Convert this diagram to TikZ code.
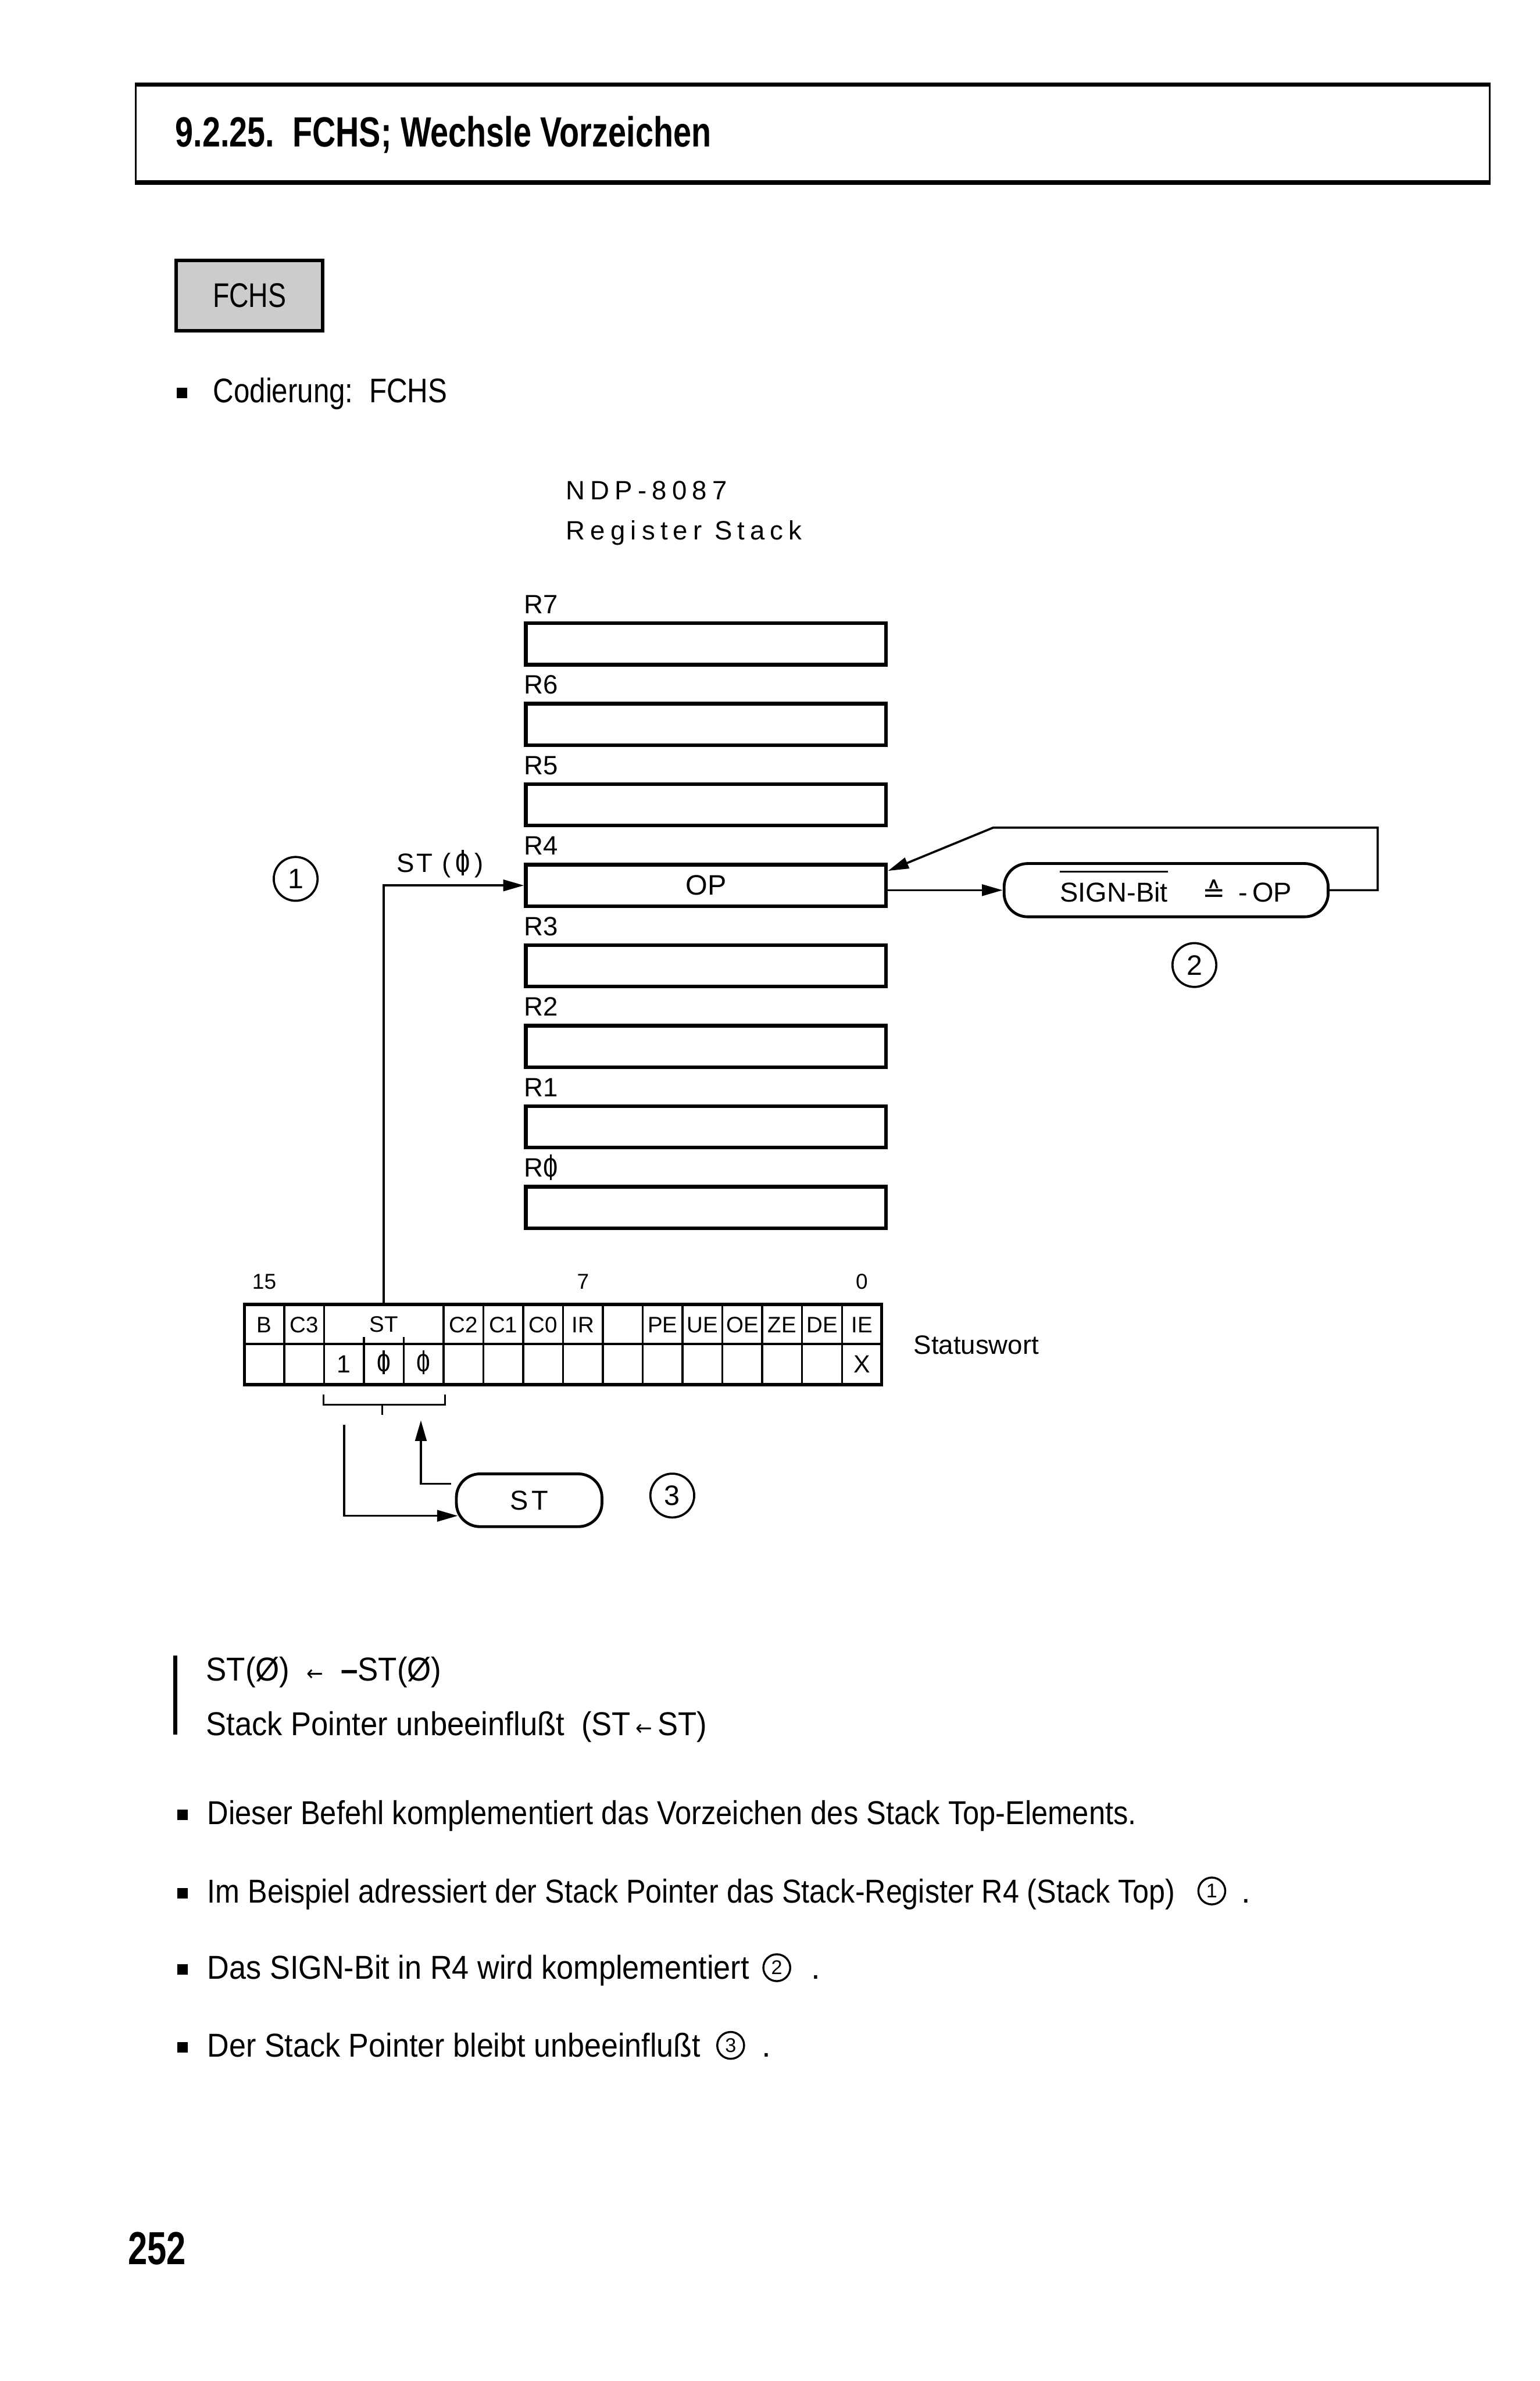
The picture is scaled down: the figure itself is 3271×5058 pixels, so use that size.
\documentclass[tikz,border=0pt]{standalone}
\usepackage{fontspec}
\usepackage{graphicx}
\setmainfont{Liberation Sans}
\newfontfamily\djv{DejaVu Sans}
\newfontfamily\spacedfont[LetterSpace=20]{Liberation Sans}
\newfontfamily\lightspaced[LetterSpace=8]{Liberation Sans}
\usetikzlibrary{arrows.meta,calc}
\newcommand\fs[1]{\fontsize{#1}{#1}\selectfont}
\newcommand\fitto[2]{\resizebox{#1}{\height}{#2}}
\newcommand\zbar{\ooalign{0\cr\hidewidth\rule[-0.12em]{0.08em}{0.96em}\hidewidth\cr}}
\begin{document}
\begin{tikzpicture}[x=0.01cm,y=-0.01cm,
  txt/.style={inner sep=0, anchor=base west},
  reglbl/.style={txt, font=\fs{16}},
  regbox/.style={draw, line width=2.2pt, minimum width=7.65cm, minimum height=0.88cm, inner sep=0, anchor=north west},
  conn/.style={line width=1.3pt},
  withtip/.style={-{Triangle[length=0.44cm,width=0.24cm]}},
  pill/.style={draw, line width=1.7pt, rounded corners=0.5cm, inner sep=0},
  numcirc/.style={draw, circle, line width=1.3pt, minimum size=0.93cm, inner sep=0, font=\fs{17}},
  smallcirc/.style={draw, circle, line width=1.2pt, minimum size=0.57cm, inner sep=0, font=\fs{12}},
  bullet/.style={fill, minimum size=0.22cm, inner sep=0},
  cell/.style={inner sep=0, font=\fs{13.5}},
  val/.style={inner sep=0, font=\fs{15}},
  bitno/.style={inner sep=0, anchor=base, font=\fs{13}}]
\fill[white] (0,0) rectangle (3271,5058);
\useasboundingbox (0,0) rectangle (3271,5058);

% header
\draw[line width=2.6pt] (286,180) -- (3166,180) (286,388) -- (3166,388);
\draw[line width=1.1pt] (288,180) -- (288,388) (3164,180) -- (3164,388);
\node[txt] (title) at (372,312) {\fitto{11.37cm}{\fs{25.5}\bfseries 9.2.25.\ \ FCHS;\ Wechsle Vorzeichen}};

% FCHS box
\node[draw, fill=black!20, line width=2.2pt, minimum width=3.11cm, minimum height=1.49cm, inner sep=0] (fchs) at (530,628) {\fitto{1.56cm}{\fs{20.6}FCHS}};
\node[bullet] (bulc) at (386,835) {};
\node[txt] (cod) at (452,855) {\fitto{4.97cm}{\fs{20.6}Codierung:\ \ FCHS}};

% diagram title
\node[txt, font=\fs{16}\spacedfont] (ndp) at (1202,1061) {NDP-8087};
\node[txt, font=\fs{16}\spacedfont] (rs) at (1202,1147) {Register Stack};

% registers
\foreach \n [count=\k from 0] in {7,6,5,4,3,2,1,0}{
  \node[regbox] (r\n) at (1113,{1320+171*\k}) {};
  \node[reglbl] (l\n) at (1113,{1303+171*\k}) {\ifnum\n=0 R\zbar\else R\n\fi};
}
\node[font=\fs{17}, inner sep=0] (op) at (r4.center) {OP};

% status word table
\draw[line width=1.8pt] (519,2771) -- (519,2941) (1873,2771) -- (1873,2941);
\draw[line width=2.2pt] (516,2771) -- (1876,2771) (516,2941) -- (1876,2941);
\draw[line width=1.6pt] (519,2855) -- (1873,2855);
\foreach \i in {1,2,5,6,...,15}
  \draw[line width=1.2pt] ({519+84.625*\i},2771) -- ({519+84.625*\i},2941);
\foreach \i in {3,4}
  \draw[line width=1.2pt] ({519+84.625*\i},2840) -- ({519+84.625*\i},2941);
\foreach \i/\t in {0/B,1/C3,5/C2,6/C1,7/C0,8/IR,10/PE,11/UE,12/OE,13/ZE,14/DE,15/IE}
  \node[cell] (sw\i) at ({519+84.625*(\i+0.5)},2815) {\t};
\node[cell, minimum width=2.54cm, minimum height=0.84cm] (stcell) at ({519+84.625*3.5},2813) {ST};
\node[val] (v2) at ({519+84.625*2.5},2898) {1};
\node[val] (v3) at ({519+84.625*3.5},2898) {\zbar};
\node[val] (v4) at ({519+84.625*4.5},2898) {\zbar};
\node[val] (v15) at ({519+84.625*15.5},2898) {X};
\node[bitno] (bn15) at ({519+84.625*0.5},2738) {15};
\node[bitno] (bn7) at ({519+84.625*8.5},2738) {7};
\node[bitno] (bn0) at ({519+84.625*15.5},2738) {0};
\node[inner sep=0, anchor=west, font=\fs{16}] (swlbl) at (1940,2857) {Statuswort};

% ST pointer to R4
\node[txt, font=\fs{16}\lightspaced] (stlbl) at (842,1853) {ST (\,\zbar\,)};
\node[numcirc] (n1) at (628,1867) {1};
\draw[conn, withtip] (stcell.north) |- (r4.west);

% SIGN pill
\node[pill, minimum width=6.88cm, minimum height=1.13cm] (sign) at (2477,1891) {};
\node[txt, font=\fs{16.5}] (sb) at (2251,1916) {SIGN-Bit};
\node[txt, font=\fs{16.5}] (mop) at (2553,1916) {{\djv ≙}\hspace{0.5em}-\,OP};
\draw[line width=1.1pt] ([yshift=0.22cm]sb.north west) -- ([yshift=0.22cm]sb.north east);
\draw[conn, withtip] (r4.east |- sign.west) -- (sign.west);
\coordinate (fbk) at (2110,1758);
\draw[conn, withtip] (sign.east) -- ++(102,0) |- (fbk) -- ($(r4.north east)+(0,17)$);
\node[numcirc] (n2) at (2537,2050) {2};

% bracket and ST pill
\draw[line width=1pt] (687,2962) -- (687,2984) -- (945,2984) -- (945,2962);
\draw[line width=1pt] (812,2984) -- (812,3006);
\node[pill, minimum width=3.09cm, minimum height=1.12cm, font=\fs{16.5}] (stp) at (1124,3187) {S\kern0.12em T};
\coordinate (dn) at (731,3026);
\coordinate (uptip) at (894,3017);
\draw[conn, withtip] (dn) |- ($(stp.west)+(6,33)$);
\draw[conn, withtip] ($(stp.west)+(-8,-35)$) -| (uptip);
\node[numcirc] (n3) at (1428,3177) {3};

% statement block
\draw[line width=2.6pt] (372,3517) -- (372,3685);
\node[txt] (e1) at (437,3570) {\fitto{5.0cm}{\fs{20}ST(Ø)\ \ {\djv\fs{13}←}\ \ {\bfseries –}ST(Ø)}};
\node[txt] (e2) at (437,3687) {\fitto{10.63cm}{\fs{20}Stack Pointer unbeeinflußt\ \ (ST\,{\djv\fs{13}←}\,ST)}};

% bullets
\node[bullet] (bu1) at (388,3855) {};
\node[txt] (t1) at (440,3875) {\fitto{19.72cm}{\fs{20}Dieser Befehl komplementiert das Vorzeichen des Stack Top-Elements.}};
\node[bullet] (bu2) at (388,4022) {};
\node[txt] (t2) at (440,4042) {\fitto{20.54cm}{\fs{20}Im Beispiel adressiert der Stack Pointer das Stack-Register R4 (Stack Top)}};
\node[smallcirc] (s1) at (2574,4017) {1};
\node[txt, font=\fs{20}] (p1) at (2636,4042) {.};
\node[bullet] (bu3) at (388,4184) {};
\node[txt] (t3) at (440,4204) {\fitto{11.5cm}{\fs{20}Das SIGN-Bit in R4 wird komplementiert}};
\node[smallcirc] (s2) at (1650,4180) {2};
\node[txt, font=\fs{20}] (p2) at (1722,4204) {.};
\node[bullet] (bu4) at (388,4349) {};
\node[txt] (t4) at (440,4369) {\fitto{10.47cm}{\fs{20}Der Stack Pointer bleibt unbeeinflußt}};
\node[smallcirc] (s3) at (1552,4345) {3};
\node[txt, font=\fs{20}] (p3) at (1618,4369) {.};

% page number
\node[txt] (pg) at (271,4810) {\fitto{1.23cm}{\fs{28}\bfseries 252}};
\end{tikzpicture}
\end{document}
